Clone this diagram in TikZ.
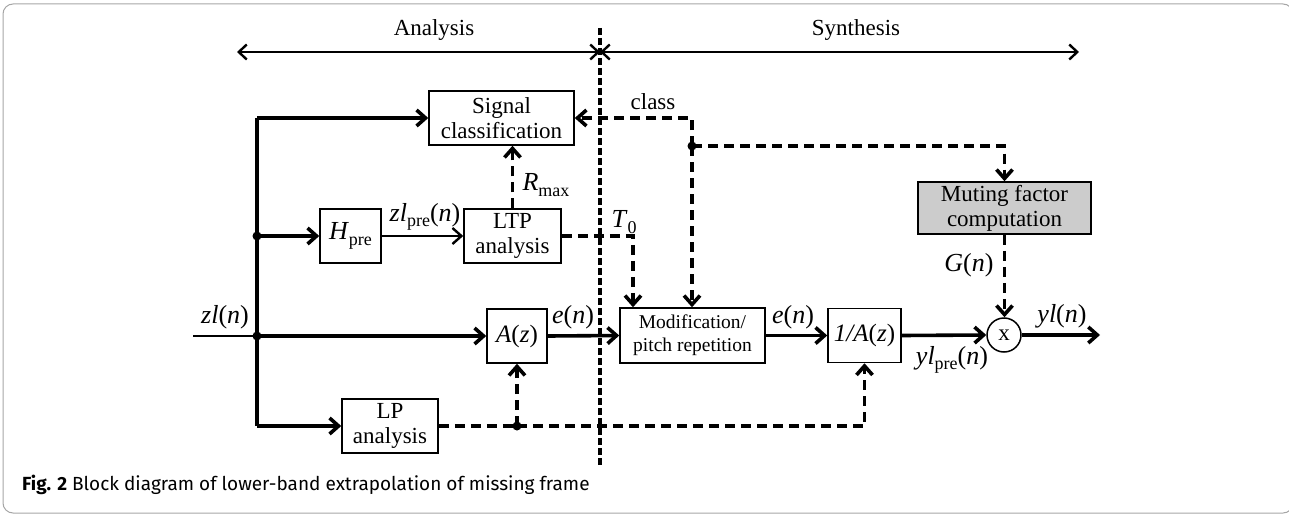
\documentclass[tikz,border=0pt]{standalone}
\usepackage{fontspec}
\setmainfont{Liberation Serif}
\newfontfamily\capfont{Fira Sans}
\usetikzlibrary{arrows.meta}
\newcommand{\sbs}[1]{\raisebox{-0.45ex}{\fontsize{18}{18}\selectfont #1}}
\begin{document}
\begin{tikzpicture}[x=1pt,y=-1pt,
 blk/.style={draw, line width=1.5pt, fill=white, inner sep=0pt, align=center, font=\fontsize{23}{25}\selectfont},
 thk/.style={line width=3.6pt},
 thn/.style={line width=1.8pt},
 dsh/.style={line width=3.6pt, dash pattern=on 10pt off 6pt},
 arr/.style={-{Straight Barb[length=9pt,width=16pt]}},
 lbl/.style={font=\fontsize{26}{28}\selectfont, inner sep=0pt},
 jdot/.style={circle, fill=black, inner sep=0pt, minimum size=9pt},
 hdr/.style={font=\fontsize{23}{23}\selectfont, inner sep=0pt},
]
\useasboundingbox (0,0) rectangle (1289,516);
\draw[gray!70, line width=1pt, rounded corners=10pt] (3,4) rectangle (1293,513);

% blocks
\node[blk, minimum width=145pt, minimum height=54pt] (sc) at (501.5,118) {Signal\\classification};
\node[blk, minimum width=61pt, minimum height=54pt, font=\fontsize{26}{28}\selectfont] (hp) at (350.5,236) {\textit{H}\sbs{pre}};
\node[blk, minimum width=97pt, minimum height=54pt] (ltp) at (512.5,236) {LTP\\analysis};
\node[blk, minimum width=60pt, minimum height=54pt, font=\fontsize{25}{28}\selectfont] (az) at (517,336) {\textit{A}(\textit{z})};
\node[blk, minimum width=96pt, minimum height=54pt] (lp) at (390,426) {LP\\analysis};
\node[blk, minimum width=145pt, minimum height=55pt, font=\fontsize{19.5}{23}\selectfont] (mod) at (692.5,335.5) {Modification/\\pitch repetition};
\node[blk, minimum width=73pt, minimum height=54pt, font=\fontsize{25}{28}\selectfont] (inv) at (864.5,335.5) {\textit{1/A}(\textit{z})};
\node[blk, fill=gray!40, minimum width=173pt, minimum height=52pt] (mute) at (1004.5,208) {Muting factor\\computation};
\node[draw, circle, line width=1.5pt, minimum size=34pt, inner sep=0pt, fill=white, font=\fontsize{23}{23}\selectfont] (mx) at (1004,335) {x};

% coordinates
\coordinate (bt) at (257,118);
\coordinate (bh) at (257,236);
\coordinate (bm) at (257,336);
\coordinate (bb) at (257,426);
\coordinate (in) at (193,336);
\coordinate (out) at (1100,335);
\coordinate (lj) at (517,426);
\coordinate (cj) at (692,146);
\coordinate (t0) at (633,236);
\coordinate (dvt) at (600,28);
\coordinate (dvb) at (600,465);
\coordinate (al) at (237,52);
\coordinate (am) at (600,52);
\coordinate (ar) at (1079,52);

% header arrows
\draw[line width=2.4pt, {Straight Barb[length=8pt,width=15pt]}-{Straight Barb[length=8pt,width=15pt]}] (al) -- (am);
\draw[line width=2.4pt, {Straight Barb[length=8pt,width=15pt]}-{Straight Barb[length=8pt,width=15pt]}] (am) -- (ar);
\node[hdr] (tana) at (434,30) {Analysis};
\node[hdr] (tsyn) at (856,30) {Synthesis};

% solid signal paths
\draw[thk] (bt) -- (bb);
\draw[thk,arr] (bt) -- (sc.west);
\draw[thk,arr] (bh) -- (hp.west);
\draw[thk,arr] (bm) -- (az.west);
\draw[thk,arr] (bb) -- (lp.west);
\draw[thn] (in) -- (bm);
\draw[thn,-{Straight Barb[length=9pt,width=16pt,line width=2.4pt]}] (hp.east) -- (ltp.west);
\draw[thk,arr] (az.east) -- (mod.west);
\draw[thk,arr] (mod.east) -- (inv.west);
\draw[thk,arr] (inv.east) -- (mx.west);
\draw[thk,arr] (mx.east) -- (out);

% dashed control paths
\draw[dsh,arr] (ltp.north) -- (sc.south -| ltp.north);
\draw[dsh,arr] (ltp.east) -| (mod.north -| t0);
\draw[dsh,arr] (cj) |- (sc.east);
\draw[dsh,arr] (cj) -- (mod.north -| cj);
\draw[dsh,arr] (cj) -| (mute.north);
\draw[dsh,arr] (mute.south) -- (mute.south |- mx.north);
\draw[dsh] (lp.east) -- (lj);
\draw[dsh,arr] (lj) -- (az.south);
\draw[dsh,arr] (lj) -| (inv.south);

% junction dots
\node[jdot] (d1) at (bh) {};
\node[jdot] (d2) at (bm) {};
\node[jdot] (d3) at (lj) {};
\node[jdot] (d4) at (cj) {};

% divider
\draw[line width=3.6pt, dash pattern=on 7pt off 3pt] (dvt) -- (dvb);

% labels
\node[lbl] (lzl) at (225,317) {\textit{zl}(\textit{n})};
\node[lbl] (lzlp) at (425,217) {\textit{zl}\sbs{pre}(\textit{n})};
\node[lbl] (lr) at (546,185) {\textit{R}\sbs{max}};
\node[lbl] (lt) at (624,222) {\textit{T}\sbs{0}};
\node[font=\fontsize{23}{23}\selectfont, inner sep=0pt] (lcl) at (653,102) {class};
\node[lbl] (le1) at (573,317) {\textit{e}(\textit{n})};
\node[lbl] (le2) at (793,317) {\textit{e}(\textit{n})};
\node[lbl] (lg) at (969,265) {\textit{G}(\textit{n})};
\node[lbl] (ly) at (1062,316) {\textit{yl}(\textit{n})};
\node[lbl] (lyp) at (952,360) {\textit{yl}\sbs{pre}(\textit{n})};

% caption
\node[anchor=west, font=\capfont\fontsize{19}{19}\selectfont, inner sep=0pt] (cap) at (22,485) {\textbf{Fig. 2} Block diagram of lower-band extrapolation of missing frame};
\end{tikzpicture}
\end{document}
